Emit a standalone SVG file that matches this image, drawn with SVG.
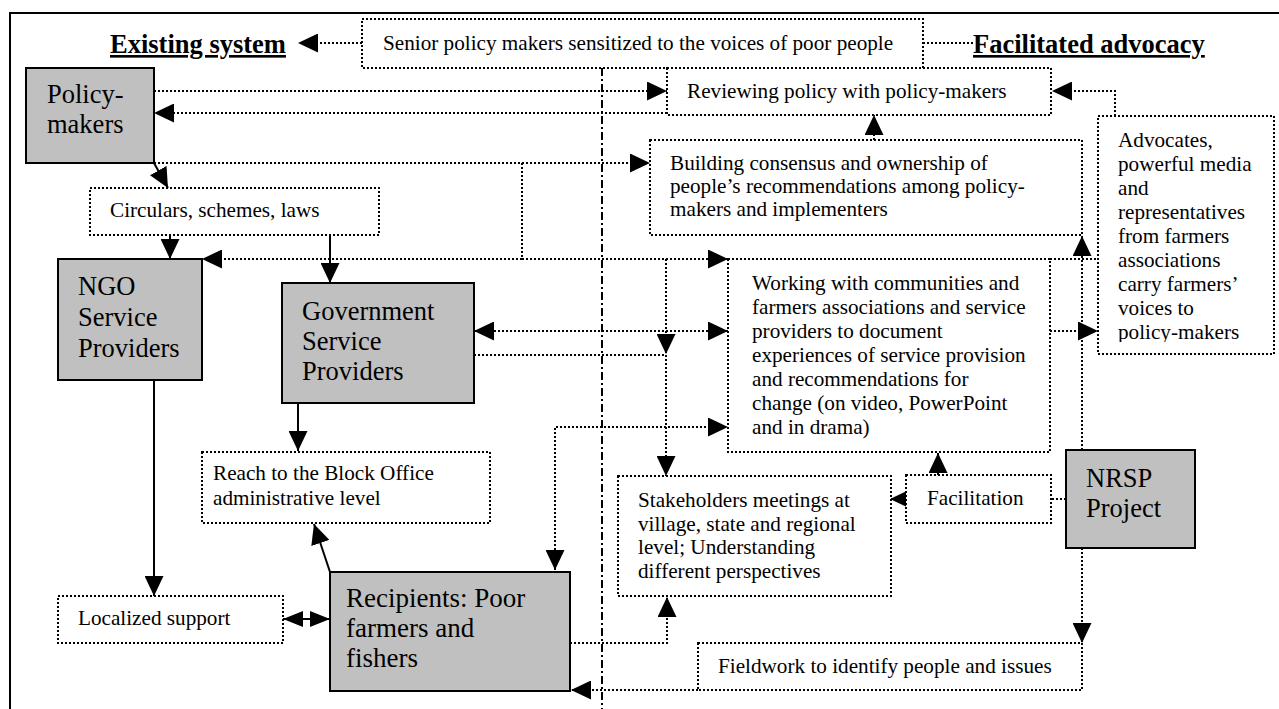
<svg xmlns="http://www.w3.org/2000/svg" width="1279" height="709" viewBox="0 0 1279 709">
<style>
.t{font-family:"Liberation Serif","Times New Roman",serif;font-size:21.2px;fill:#000}
.big{font-size:26.5px}
.hd{font-weight:bold;font-size:26.5px;text-decoration:underline}
.db{fill:#fff;stroke:#000;stroke-width:2;stroke-dasharray:2 2;shape-rendering:crispEdges}
.gb{fill:#c0c0c0;stroke:#000;stroke-width:2}
.dl{fill:none;stroke:#000;stroke-width:1.5;stroke-dasharray:2 2;shape-rendering:crispEdges}
.sl{fill:none;stroke:#000;stroke-width:2}
.dd{fill:none;stroke:#000;stroke-width:2;stroke-dasharray:8 3 2 3}
.ae{marker-end:url(#ah)}
.as{marker-start:url(#ah)}
</style>
<defs>
<marker id="ah" markerUnits="userSpaceOnUse" viewBox="0 0 20 19" markerWidth="20" markerHeight="19" refX="20" refY="9.5" orient="auto-start-reverse">
<path d="M0,0 L20,9.5 L0,19 z" fill="#000"/>
</marker>
<marker id="sh" markerUnits="userSpaceOnUse" viewBox="0 0 20 16" markerWidth="20" markerHeight="16" refX="20" refY="8" orient="auto-start-reverse">
<path d="M0,0 L20,8 L0,16 z" fill="#000"/>
</marker>
<clipPath id="advclip"><rect x="1100" y="118" width="172" height="224"/></clipPath>
</defs>
<rect width="1279" height="709" fill="#fff"/>
<g id="frame">
<path d="M1279,13 L10,13 L10,709" fill="none" stroke="#000" stroke-width="2"/>
<path class="dd" d="M602,68 L602,709"/>
</g>
<g id="connectors">
<path class="dl ae" d="M362,43 L298,43"/>
<path class="dl" d="M923,43 L973,43"/>
<path class="dl ae" d="M154,91 L667,91"/>
<path class="dl ae" d="M667,113 L154,113"/>
<path class="dl ae" d="M1115,116 L1115,91 L1052,91"/>
<path class="dl ae" d="M874,140 L874,115"/>
<path class="dl ae" d="M154,163 L650,163"/>
<path class="dl" d="M522,163 L522,259"/>
<path class="dl ae" d="M522,259 L202,259"/>
<path class="dl ae" d="M522,259 L728,259"/>
<path class="dl" d="M1050,259 L1098,259"/>
<path class="dl ae" d="M666,259 L666,354"/>
<path class="dl ae" d="M474,355 L666,355 L666,476"/>
<path class="dl ae as" d="M474,331 L728,331"/>
<path class="dl ae" d="M1050,331 L1098,331"/>
<path class="dl ae" d="M1082,450 L1082,236"/>
<path class="dl ae as" d="M555,570 L555,427 L728,427"/>
<path class="dl ae" d="M570,643 L667,643 L667,597"/>
<path class="dl ae" d="M698,690 L571,690"/>
<path class="dl ae" d="M1082,548 L1082,643"/>
<path class="dl" d="M1066,499 L1051,499"/>
<path class="dl ae" d="M912,499 L890,499"/>
<path class="dl ae" d="M938,475 L938,453"/>
<path class="sl ae" d="M298,403 L298,451"/>
<path class="sl ae" d="M330,572 L314,524"/>
<path class="sl ae" d="M154,380 L154,596"/>
<path class="sl" d="M283,619 L330,619" marker-start="url(#sh)" marker-end="url(#sh)"/>
<path class="sl ae" d="M154,163 L168,188"/>
<path class="sl ae" d="M170,235 L170,259"/>
<path class="sl ae" d="M330,235 L330,283"/>
</g>
<g id="existing-system">
<text class="t hd" x="110" y="53">Existing system</text>
</g>
<g id="facilitated-advocacy">
<text class="t hd" x="973" y="53">Facilitated advocacy</text>
</g>
<g id="senior">
<rect class="db" x="362" y="19" width="561" height="49"/>
<text class="t" x="383" y="50">Senior policy makers sensitized to the voices of poor people</text>
</g>
<g id="reviewing">
<rect class="db" x="667" y="68" width="384" height="47"/>
<text class="t" x="687" y="98">Reviewing policy with policy-makers</text>
</g>
<g id="policy-makers">
<rect class="gb" x="26" y="68" width="128" height="95"/>
<text class="t big" x="47" y="103">Policy-</text>
<text class="t big" x="47" y="133">makers</text>
</g>
<g id="building">
<rect class="db" x="650" y="140" width="432" height="95"/>
<text class="t" x="670" y="170">Building consensus and ownership of</text>
<text class="t" x="670" y="193">people’s recommendations among policy-</text>
<text class="t" x="670" y="216">makers and implementers</text>
</g>
<g id="advocates">
<rect class="db" x="1098" y="116" width="176" height="238"/>
<g clip-path="url(#advclip)">
<text class="t" x="1118" y="147">Advocates,</text>
<text class="t" x="1118" y="171">powerful media</text>
<text class="t" x="1118" y="195">and</text>
<text class="t" x="1118" y="219">representatives</text>
<text class="t" x="1118" y="243">from farmers</text>
<text class="t" x="1118" y="267">associations</text>
<text class="t" x="1118" y="291">carry farmers’</text>
<text class="t" x="1118" y="315">voices to</text>
<text class="t" x="1118" y="339">policy-makers</text>
</g>
</g>
<g id="circulars">
<rect class="db" x="90" y="188" width="289" height="47"/>
<text class="t" x="110" y="217">Circulars, schemes, laws</text>
</g>
<g id="ngo">
<rect class="gb" x="58" y="259" width="144" height="121"/>
<text class="t big" x="78" y="295">NGO</text>
<text class="t big" x="78" y="326">Service</text>
<text class="t big" x="78" y="357">Providers</text>
</g>
<g id="government">
<rect class="gb" x="282" y="283" width="192" height="120"/>
<text class="t big" x="302" y="320">Government</text>
<text class="t big" x="302" y="350">Service</text>
<text class="t big" x="302" y="380">Providers</text>
</g>
<g id="working">
<rect class="db" x="728" y="259" width="322" height="193"/>
<text class="t" x="752" y="290">Working with communities and</text>
<text class="t" x="752" y="314">farmers associations and service</text>
<text class="t" x="752" y="338">providers to document</text>
<text class="t" x="752" y="362">experiences of service provision</text>
<text class="t" x="752" y="386">and recommendations for</text>
<text class="t" x="752" y="410">change (on video, PowerPoint</text>
<text class="t" x="752" y="434">and in drama)</text>
</g>
<g id="reach">
<rect class="db" x="202" y="452" width="288" height="71"/>
<text class="t" x="213" y="480">Reach to the Block Office</text>
<text class="t" x="213" y="505">administrative level</text>
</g>
<g id="stakeholders">
<rect class="db" x="618" y="476" width="273" height="120"/>
<text class="t" x="638" y="507">Stakeholders meetings at</text>
<text class="t" x="638" y="531">village, state and regional</text>
<text class="t" x="638" y="554">level; Understanding</text>
<text class="t" x="638" y="578">different perspectives</text>
</g>
<g id="facilitation">
<rect class="db" x="906" y="475" width="145" height="48"/>
<text class="t" x="927" y="505">Facilitation</text>
</g>
<g id="nrsp">
<rect class="gb" x="1066" y="450" width="129" height="98"/>
<text class="t big" x="1086" y="487">NRSP</text>
<text class="t big" x="1086" y="517">Project</text>
</g>
<g id="localized">
<rect class="db" x="58" y="596" width="225" height="47"/>
<text class="t" x="78" y="625">Localized support</text>
</g>
<g id="recipients">
<rect class="gb" x="330" y="572" width="240" height="119"/>
<text class="t big" x="346" y="607" style="font-size:27px">Recipients: Poor</text>
<text class="t big" x="346" y="637" style="font-size:27px">farmers and</text>
<text class="t big" x="346" y="667" style="font-size:27px">fishers</text>
</g>
<g id="fieldwork">
<rect class="db" x="698" y="643" width="384" height="47"/>
<text class="t" x="718" y="673">Fieldwork to identify people and issues</text>
</g>
</svg>
